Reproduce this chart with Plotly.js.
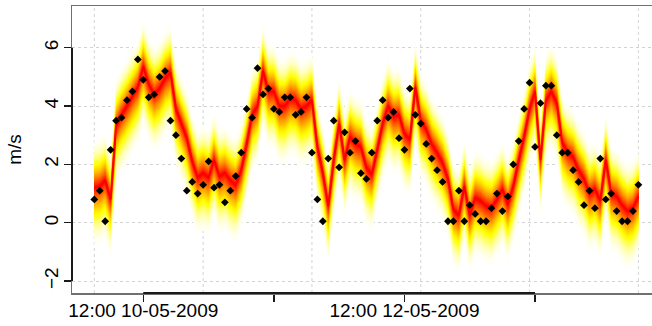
<!DOCTYPE html>
<html><head><meta charset="utf-8">
<script src="https://cdn.plot.ly/plotly-3.0.1.min.js"></script>
<style>html,body{margin:0;padding:0;background:#fff}#chart{width:652px;height:326px}</style>
</head><body><div id="chart"></div>
<script>
// ---- data (hourly, starting 03:00 10-05-2009) ----
const startTime = [2009, 5, 10, 3];   // year, month, day, hour
const observed = [
 0.80,1.10,0.05,2.50,3.50,3.60,4.20,4.50,5.60,4.90,
 4.30,4.40,5.00,5.20,3.50,3.00,2.20,1.10,1.40,1.00,
 1.30,2.10,1.20,1.30,0.70,1.10,1.60,2.40,3.90,3.60,
 5.30,4.40,4.60,3.90,3.80,4.30,4.30,3.70,3.80,4.30,
 2.40,0.80,0.05,2.20,3.50,1.90,3.10,2.40,2.80,1.70,
 1.50,2.40,3.50,4.20,3.60,3.80,2.90,2.50,4.60,3.70,
 3.40,2.70,2.20,1.80,1.40,0.05,0.05,1.10,0.05,0.60,
 0.30,0.05,0.05,0.50,1.00,0.40,0.90,2.00,2.80,3.90,
 4.80,2.60,4.10,4.70,4.70,3.00,2.40,2.40,1.80,1.40,
 0.60,1.10,0.50,2.20,0.80,1.00,0.40,0.05,0.05,0.40,
 1.30];
const median = [
 1.20,1.25,1.45,0.80,3.30,3.70,4.00,4.35,4.65,5.35,
 4.75,4.40,4.60,4.95,5.15,3.90,3.40,2.90,2.10,1.55,
 1.70,1.55,2.15,1.60,1.70,1.45,1.30,1.80,2.70,3.70,
 4.00,5.20,4.50,4.50,4.00,4.00,4.25,4.20,3.90,4.00,
 4.20,2.60,1.70,0.57,2.15,3.40,2.15,2.95,2.70,2.60,
 1.90,1.65,2.50,3.40,4.00,3.65,3.70,3.05,2.85,4.65,
 3.50,3.20,2.70,2.40,2.05,1.50,0.45,0.25,1.25,0.25,
 0.85,0.75,0.57,0.50,0.80,1.15,0.62,1.25,2.15,2.95,
 3.90,4.50,2.15,4.20,4.50,4.10,2.75,2.40,2.25,1.80,
 1.50,1.00,1.15,0.75,2.15,1.00,0.90,0.60,0.40,0.50,
 0.90];
const sdUpper = 0.70;   // spread of forecast distribution above median
const sdLower = 0.85;   // spread below median
const tickTimes  = ['2009-05-10 12:00:00','2009-05-11 12:00:00','2009-05-12 12:00:00','2009-05-13 12:00:00'];
const tickLabels = ['12:00 10-05-2009','','12:00 12-05-2009',''];
const yTickVals  = [-2, 0, 2, 4, 6];

// ---- helpers ----
const HOUR = 3600e3;
const t0 = Date.UTC(startTime[0], startTime[1]-1, startTime[2], startTime[3]);
function fmt(ms){
  const d = new Date(ms), p = n => String(n).padStart(2,'0');
  return d.getUTCFullYear()+'-'+p(d.getUTCMonth()+1)+'-'+p(d.getUTCDate())+' '+
         p(d.getUTCHours())+':'+p(d.getUTCMinutes())+':'+p(d.getUTCSeconds());
}
const times = median.map((_, i) => fmt(t0 + i*HOUR));

function qnorm(p){
  const a=[-3.969683028665376e+01,2.209460984245205e+02,-2.759285104469687e+02,1.383577518672690e+02,-3.066479806614716e+01,2.506628277459239e+00];
  const b=[-5.447609879822406e+01,1.615858368580409e+02,-1.556989798598866e+02,6.680131188771972e+01,-1.328068155288572e+01];
  const c=[-7.784894002430293e-03,-3.223964580411365e-01,-2.400758277161838e+00,-2.549732539343734e+00,4.374664141464968e+00,2.938163982698783e+00];
  const d=[7.784695709041462e-03,3.224671290700398e-01,2.445134137142996e+00,3.754408661907416e+00];
  const pl=0.02425;
  if(p<pl){const q=Math.sqrt(-2*Math.log(p));return (((((c[0]*q+c[1])*q+c[2])*q+c[3])*q+c[4])*q+c[5])/((((d[0]*q+d[1])*q+d[2])*q+d[3])*q+1);}
  if(p>1-pl){const q=Math.sqrt(-2*Math.log(1-p));return -(((((c[0]*q+c[1])*q+c[2])*q+c[3])*q+c[4])*q+c[5])/((((d[0]*q+d[1])*q+d[2])*q+d[3])*q+1);}
  const q=p-0.5,r=q*q;return (((((a[0]*r+a[1])*r+a[2])*r+a[3])*r+a[4])*r+a[5])*q/(((((b[0]*r+b[1])*r+b[2])*r+b[3])*r+b[4])*r+1);
}
// R heat.colors(n)
function heatColors(n){
  const j = Math.floor(n/4), i = n - j, out = [];
  for(let k=0;k<i;k++){ const h = (i>1? k/(i-1):0)*(1/6); const g = Math.round(h*6*255); out.push(`rgb(255,${g},0)`); }
  for(let k=0;k<j;k++){ const s = (1-1/(2*j)) - (j>1? k*((1-1/(2*j))-(1/(2*j)))/(j-1):0); out.push(`rgb(255,255,${Math.round((1-s)*255)})`); }
  return out;
}

// ---- fan bands (percentiles 1..99) ----
const nBands = 49;
const cols = heatColors(nBands);
const traces = [];
const xPoly = times.concat(times.slice().reverse());
for(let k=nBands;k>=1;k--){
  const z = qnorm(0.5 + k/100);
  const up = median.map(m => m + z*sdUpper);
  const lo = median.map(m => m - z*sdLower);
  traces.push({x:xPoly, y:up.concat(lo.slice().reverse()), type:'scatter', mode:'lines',
    fill:'toself', fillcolor:cols[k-1], line:{width:0, color:cols[k-1]}, hoverinfo:'skip', showlegend:false});
}
traces.push({x:times, y:median, type:'scatter', mode:'lines', line:{color:'#ff0000', width:2}, showlegend:false});
traces.push({x:times, y:observed, type:'scatter', mode:'markers',
  marker:{symbol:'diamond', size:6, color:'#000'}, showlegend:false});

// ---- grid & axis segments ----
const shapes = [];
for(let i=0;i<times.length;i+=20){
  shapes.push({type:'line', xref:'x', yref:'paper', x0:times[i], x1:times[i], y0:0, y1:1,
    line:{color:'#d3d3d3', width:1, dash:'dot'}, layer:'below'});
}
shapes.push({type:'line', xref:'x', yref:'paper', x0:tickTimes[0], x1:tickTimes[tickTimes.length-1], y0:0, y1:0,
  line:{color:'#1a1a1a', width:2}, layer:'above'});
shapes.push({type:'line', xref:'paper', yref:'y', x0:0, x1:0, y0:yTickVals[0], y1:yTickVals[yTickVals.length-1],
  line:{color:'#1a1a1a', width:2}, layer:'above'});

const font = {family:'"Liberation Sans", Arial, sans-serif', size:19, color:'#000'};
const layout = {
  width:652, height:326, margin:{l:72, r:0, t:6, b:33},
  paper_bgcolor:'#fff', plot_bgcolor:'#fff', font:font, showlegend:false,
  xaxis:{type:'date', range:[fmt(t0 - 4.1*HOUR), fmt(t0 + 102.5*HOUR)],
    tickmode:'array', tickvals:tickTimes, ticktext:tickLabels,
    ticks:'outside', ticklen:7, tickwidth:1.5, tickcolor:'#1a1a1a',
    showline:true, mirror:true, linecolor:'#707070', linewidth:1.5,
    showgrid:false, zeroline:false, tickfont:font, automargin:false,
    ticklabelstandoff:-7},
  yaxis:{range:[-2.41, 7.43], tickmode:'array', tickvals:yTickVals, tickangle:-90,
    ticks:'outside', ticklen:7, tickwidth:1.5, tickcolor:'#1a1a1a',
    showline:true, linecolor:'#707070', linewidth:1.5,
    showgrid:true, gridcolor:'#d3d3d3', griddash:'dot', gridwidth:1, zeroline:false,
    tickfont:font, automargin:false, ticklabelstandoff:-2,
    title:{text:'m/s', font:font, standoff:14}},
  shapes:shapes
};
Plotly.newPlot('chart', traces, layout, {staticPlot:true, displayModeBar:false});
</script></body></html>
